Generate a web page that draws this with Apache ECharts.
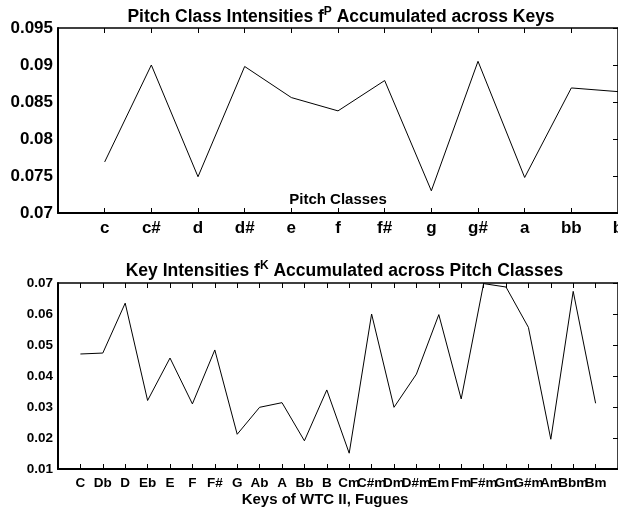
<!DOCTYPE html>
<html>
<head>
<meta charset="utf-8">
<script src="https://cdn.jsdelivr.net/npm/echarts@6/dist/echarts.min.js"></script>
<style>
html, body { margin: 0; padding: 0; background: #fff; }
#chart { width: 618px; height: 512px; }
</style>
</head>
<body>
<div id="chart"></div>
<script>
// Pitch class intensities accumulated across keys
const pitchClasses = ['c', 'c#', 'd', 'd#', 'e', 'f', 'f#', 'g', 'g#', 'a', 'bb', 'b'];
const pitchIntensity = [0.0769, 0.0900, 0.0749, 0.0898, 0.0856, 0.0838, 0.0879, 0.0730, 0.0905, 0.0748, 0.0869, 0.0864];
const pitchTicks = [0.07, 0.075, 0.08, 0.085, 0.09, 0.095];

// Key intensities accumulated across pitch classes (WTC II fugues)
const keys = ['C', 'Db', 'D', 'Eb', 'E', 'F', 'F#', 'G', 'Ab', 'A', 'Bb', 'B',
              'Cm', 'C#m', 'Dm', 'D#m', 'Em', 'Fm', 'F#m', 'Gm', 'G#m', 'Am', 'Bbm', 'Bm'];
const keyIntensity = [0.0471, 0.0474, 0.0635, 0.0321, 0.0458, 0.0310, 0.0484, 0.0212, 0.0299, 0.0314, 0.0191, 0.0355,
                      0.0151, 0.0600, 0.0299, 0.0406, 0.0598, 0.0326, 0.0698, 0.0687, 0.0557, 0.0196, 0.0673, 0.0312];
const keyTicks = [0.01, 0.02, 0.03, 0.04, 0.05, 0.06, 0.07];

const FONT = '"Liberation Sans", Arial, Helvetica, sans-serif';
const BLACK = '#000';

function tickFormatter(ticks) {
  return function (v) {
    for (const t of ticks) if (Math.abs(t - v) < 1e-9) return String(t);
    return '';
  };
}
function step(ticks) { return +(ticks[1] - ticks[0]).toFixed(6); }

function bottomX(gridIndex, names, maxVal, fontSize) {
  return {
    type: 'value', gridIndex, position: 'bottom', min: 0, max: maxVal, interval: 1,
    axisLine: { onZero: false, lineStyle: { color: BLACK, width: 2 } },
    axisTick: { inside: true, length: 5, lineStyle: { color: BLACK, width: 1 } },
    splitLine: { show: false },
    axisLabel: {
      formatter: v => names[v - 1] || '',
      color: BLACK, fontFamily: FONT, fontWeight: 'bold', fontSize,
      margin: 7, showMinLabel: true, showMaxLabel: true, hideOverlap: false
    }
  };
}
function topX(gridIndex, maxVal) {
  return {
    type: 'value', gridIndex, position: 'top', min: 0, max: maxVal, interval: 1,
    axisLine: { onZero: false, lineStyle: { color: BLACK, width: 1.5 } },
    axisTick: { inside: true, length: 5, lineStyle: { color: BLACK, width: 1 } },
    splitLine: { show: false },
    axisLabel: { show: false }
  };
}
function leftY(gridIndex, ticks, fontSize) {
  return {
    type: 'value', gridIndex, position: 'left',
    min: ticks[0], max: ticks[ticks.length - 1], interval: step(ticks),
    axisLine: { show: true, onZero: false, lineStyle: { color: BLACK, width: 2 } },
    axisTick: { show: false },
    splitLine: { show: false },
    axisLabel: {
      formatter: tickFormatter(ticks), color: BLACK, fontFamily: FONT,
      fontWeight: 'bold', fontSize, margin: 5, showMinLabel: true, showMaxLabel: true
    }
  };
}
function rightY(gridIndex, ticks) {
  return {
    type: 'value', gridIndex, position: 'right',
    min: ticks[0], max: ticks[ticks.length - 1], interval: step(ticks),
    axisLine: { show: true, onZero: false, lineStyle: { color: BLACK, width: 1.5 } },
    axisTick: { inside: true, length: 5, lineStyle: { color: BLACK, width: 1 } },
    splitLine: { show: false },
    axisLabel: { show: false }
  };
}

const titleRich = {
  m: { fontFamily: FONT, fontWeight: 'bold', fontSize: 17.5, lineHeight: 24, fill: BLACK },
  s: { fontFamily: FONT, fontWeight: 'bold', fontSize: 12, lineHeight: 8, verticalAlign: 'top', fill: BLACK }
};

const chart = echarts.init(document.getElementById('chart'), null, { renderer: 'canvas' });
chart.setOption({
  animation: false,
  backgroundColor: '#fff',
  grid: [
    { left: 58, top: 28, width: 560, height: 185, containLabel: false, outerBoundsMode: 'none' },
    { left: 58, top: 283, width: 560, height: 186, containLabel: false, outerBoundsMode: 'none' }
  ],
  xAxis: [
    bottomX(0, pitchClasses, pitchClasses.length, 17),
    topX(0, pitchClasses.length),
    bottomX(1, keys, keys.length + 1, 13.5),
    topX(1, keys.length + 1)
  ],
  yAxis: [
    leftY(0, pitchTicks, 17),
    rightY(0, pitchTicks),
    leftY(1, keyTicks, 13.5),
    rightY(1, keyTicks)
  ],
  series: [
    {
      type: 'line', xAxisIndex: 0, yAxisIndex: 0, symbol: 'none',
      lineStyle: { color: BLACK, width: 1 },
      data: pitchIntensity.map((v, i) => [i + 1, v])
    },
    {
      type: 'line', xAxisIndex: 2, yAxisIndex: 2, symbol: 'none',
      lineStyle: { color: BLACK, width: 1 },
      data: keyIntensity.map((v, i) => [i + 1, v])
    }
  ],
  graphic: [
    {
      type: 'text', x: 341, y: 17.2,
      style: {
        text: '{m|Pitch Class Intensities f}{s|P}{m| Accumulated across Keys}',
        rich: titleRich, align: 'center', verticalAlign: 'middle'
      }
    },
    {
      type: 'text', x: 344.5, y: 271.6,
      style: {
        text: '{m|Key Intensities f}{s|K}{m| Accumulated across Pitch Classes}',
        rich: titleRich, align: 'center', verticalAlign: 'middle'
      }
    },
    {
      type: 'text', x: 338, y: 199.8,
      style: {
        text: 'Pitch Classes', fill: BLACK, font: 'bold 15px ' + FONT,
        align: 'center', verticalAlign: 'middle'
      }
    },
    {
      type: 'text', x: 325, y: 500,
      style: {
        text: 'Keys of WTC II, Fugues', fill: BLACK, font: 'bold 15px ' + FONT,
        align: 'center', verticalAlign: 'middle'
      }
    }
  ]
});
</script>
</body>
</html>
